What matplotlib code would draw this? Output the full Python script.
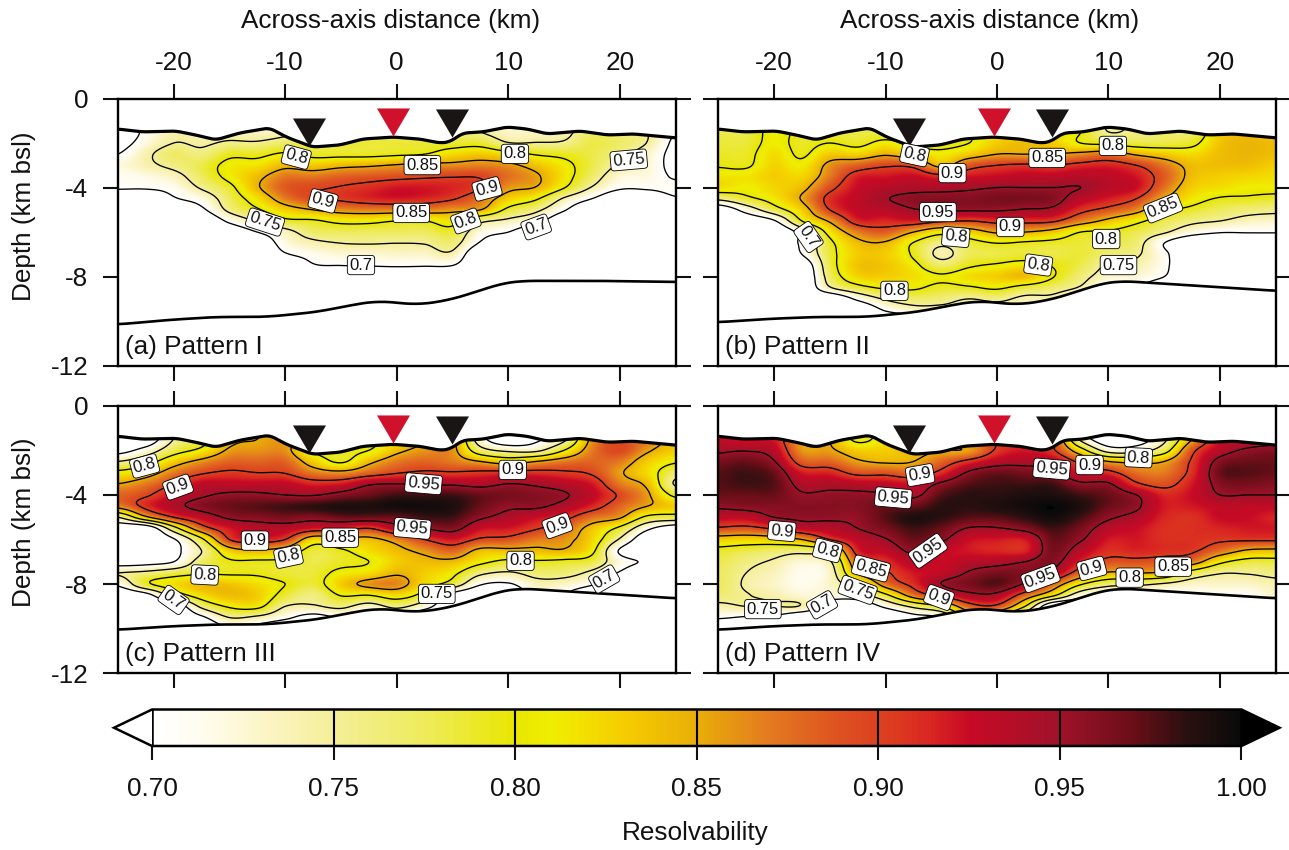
import numpy as np
import matplotlib
matplotlib.use("Agg")
import matplotlib.pyplot as plt
from matplotlib.colors import LinearSegmentedColormap, Normalize
from matplotlib.cm import ScalarMappable
from matplotlib.markers import MarkerStyle

plt.rcParams['font.family'] = ['Liberation Sans', 'DejaVu Sans']
INK = '#111111'
FS = 18.8

# ---------------- data (percent resolvability, one list per x column, depth 1.0, 1.5 ... km) ----
x_nodes = [-25, -22.5, -20, -17.5, -15, -12.5, -10, -7.5, -5, -2.5, 0, 2.5, 5, 7.5, 10, 12.5, 15, 17.5, 20, 22.5, 25]
depth_nodes = [1 + 0.5 * i for i in range(19)]

pattern_1 = [
    [66,66,68,70,72,71,70.5,66,65],
    [71,71,72,74,74,72,70.5,66,65],
    [73,74,75,77,76,73.5,71.5,69.5,66,65],
    [74,74,74.5,76,78,77.5,75.5,72,69,65],
    [74,74,75.5,79,81,81,79,77.5,76,71,66,65],
    [73,73,75.5,79,81.5,84,84.5,82,79.5,75.5,70,66,65],
    [74,74,77,80.5,84,87,88.5,87,83,79,73.5,72,69.5,65],
    [77,77,78,79,83,87,89.5,89.5,85,79.5,77,74,71.5,69.5,65],
    [77,77,78.5,79,84,88,90.2,90.5,86.5,81,77.5,75,72.5,70,65],
    [78,78,78.5,79,84.5,88.5,91,91.5,87,81,77.5,75.2,72.5,70.2,65],
    [78,78,78.5,79.5,85.3,89,92,92,87,80,77.5,75,73,70.5,65],
    [78,78,78.5,80,86,89.5,92,91.5,87,80,77.5,75.2,73,70.3,65],
    [77,77,78.5,82,86,89.8,91.5,90.3,86,81.5,78.5,76.5,74,70,65],
    [75,75,78.5,83,86.5,89.7,90.2,87.5,85,76,72,69.5,65],
    [73,73,75.2,81.5,85.8,87.5,86,83,79,74,70,66,65],
    [73,73,75.2,79.7,83.5,85.5,84.8,80.5,76,71.5,66,65],
    [74,74,75.5,79,81,81.5,80.2,74.5,70.5,66,65],
    [76,77,78,78,78,77,74.7,70,65],
    [75,76,77,76,74.5,72.5,70.7,66,65],
    [74,75,74.8,73,72.5,72,70.6,67,65],
    [70,70,69,68.5,68.5,69.5,71,69.5,66,65],
]
pattern_2 = [
    [78,78,78.5,79,79.7,81.5,82,76,66,65],
    [78,78,78.5,79,79.5,81.5,81,79,72,66,65],
    [81,81,81,82,82.5,83,82.5,81.5,78,69.5,65],
    [79,79,79,79.5,81,82.5,84,85.3,83,80,72,71,70,66,65],
    [78,78,80,83,86,87,89,91,90,85.5,81.5,79,78.5,78,77,74.5,65],
    [78,78,79,82.5,88,91.5,92.5,93,93,91.5,87,84,83,83.5,82.5,78.5,71,65],
    [78,78,81,84.5,89.5,92,93.5,94.8,93.5,91.5,88.5,84.5,83,83.5,83,80.5,75.5,70.5,65],
    [78,78,79,82.5,89,92.5,94,95.8,94.8,92,85,79.8,79.5,81,82,80.5,77,73,65],
    [79,79,79,81,84,91,94,96,95.3,90.5,81.5,76,74,77,80.5,79,76.5,73,65],
    [80,80,80,83,88.5,92,94.5,96,95.3,90,83,78.5,77.5,79.5,82,79.5,75,72,65],
    [82,82,83,85,90,92.5,95,96.5,95.3,91,85.5,80,78,80.5,83,80.5,76,72,65],
    [82,82,84,85,90.5,93,95,96.5,94.8,91,85,79.5,78.5,81.5,84,78.5,74],
    [82,82,83,85,90,93,95,96,94.3,90.5,83.5,79,78,79.8,80.2,77,74],
    [80,80,80,86,91,93.5,95,93.5,91,87,80,78.5,78.5,78,76.5,74.5,70],
    [75,75,79,87,91.5,93,93.5,92,89,84,79.5,78,76.5,74.5,73,70],
    [76,76,78,84.5,90,92,92.5,90,86.5,81,78,76.5,75.5,74,72.5,70],
    [77,77,78,83,87,88.5,87.5,85,81,78,75.5,70,71,71,70,66],
    [77,77,79,82,84,84,83,81.5,79,76,72,65],
    [83,83,83.5,84,84,83,82,79.7,77.5,75,70.3,65],
    [84,84,84.5,84.5,84,82.5,81,79.5,76.5,73.5,70.3,65],
    [83,83,84,84,83,82,81,79,76,73,70.3,65],
]
pattern_3 = [
    [65,65,68,75,81,85,88,86.5,75,66,65,65,67,75,71,65],
    [65,66,72,78,83,87,89.5,91,84,66,65,65,68,76,79,68,65],
    [74,75,78,83,87,90,92.5,94,90,78,69.5,68.5,70,78,82,77,66,65],
    [76,78,81,86,89.5,93,94.5,96,93,88,79,75,77,79.5,84,82,76,69,65],
    [84,84,85.5,88,90.5,93,95.5,97,95.5,92,90,83,79.5,79.5,83.5,84,80.5,75,70],
    [85,85,86,88,90,93,95.5,97.5,96,93.5,91.5,84.5,79.5,79.5,82,83,81,74,68],
    [86,86,86,88,89.8,93,95,98,96.5,93.5,90,83,79.3,78.5,80,78.5,75,71,65],
    [84,84,80,83,87,91.5,94.8,98.5,96,92,82.5,78.5,78,78.5,78.5,76,74.5,68,65],
    [79,79,79,79.5,86,92,96,99,97,91.5,84,79.5,79,81,83,80.2,76,70,65],
    [79,79,80,84,88,94.5,97,99,97,90,84,82,80,82,86,80,73,67,65],
    [81,81,84,87,89.7,95,98,99.5,97,93.5,86.5,84,83,84.5,86.5,82,76,70,65],
    [85,85,86,88,90.5,94.5,98,99.5,98,95,90,86,84,83,82,78,72,65],
    [86,86,86,87,90.3,94.5,98,99,98,96,92,88,84,81,78,68,65],
    [70,72,77,85,90.7,94,97,97,95.5,92.5,89.5,84,81,76,70.5,65],
    [65,66,74,83,91,95,96.5,95.5,94,92,89,84,79,74.5,69.5,65],
    [68,69,74,85,91,94.5,96,95.5,92.5,90.3,87,84,79.5,76.5,73.5,72],
    [73,74,80,87,90.5,93.5,95.3,94,91,88,86,84.5,79,76.5,73,70],
    [86,86,87,88,89.5,92,93,91.5,87.5,83.5,82.5,81,78,74,70.5,65],
    [88,89,89.5,87,85.5,87,89.5,88,85.5,79,74.5,69.5,72,69.5,65],
    [87,87,85.5,83,82,84,85.5,85,79,71,66,65,69,65],
    [84,84,83,80.5,77,74.5,79,83,78,67,65],
]
pattern_4 = [
    [93,93,94.5,96.5,97.5,97.5,97,95.5,93,89.5,83,79,78,77.5,77.5,76.5,74,70.5,65],
    [92,92,94.8,97,98,98,97,96,93,89,82.5,78,76,75,74.5,75.2,75,69.5,65],
    [92,92,93.5,95.2,97,97.5,97,96,95,90.5,83,77,74.5,73.5,73,74,75,69,65],
    [85,85,86,88.5,92,94,95.3,96,95.5,93,85,76.5,72.5,71.5,71.5,72.5,74.5,65,65],
    [85,85,85.5,88,91.5,94,95.5,96,95.5,93.5,90,79,74.5,73,73,72,67,65,65],
    [78,79,83,85.5,89,93.5,95.5,96,95.5,95,93,91.5,88.5,85.5,78,73,66,65],
    [82,82,83,84.5,89,93,95.3,97,97.5,96.5,94.8,93,91,89.5,87,79,71,65],
    [84,84,84,85,88,92.5,94.3,97,99,98,97,95.5,93.5,92,91,87,76,68,65],
    [86,86,85,88,91,95.5,97.5,98.5,98.5,97,95.5,93,92.5,93,95,91,80,70,65],
    [88,88,85.5,91,95.5,97.5,98.5,98.5,97.5,94.8,92.5,92,93.5,95.3,96.5,94,88,80,65],
    [90,90,90.5,93.5,97,98,98.5,99,97.5,94.8,92,91.5,94,96.5,97.5,94,89,80],
    [90,91,92,94,96.5,98,99,99.5,98.5,96,92,91.5,95,96,94.5,88,80,70],
    [90,90,90.5,93.5,95.5,98,99,100,99.5,98,97,96.5,96,94,88,81,65],
    [70,74,82,89,92,95.5,98,99,98,96.5,95.3,93.5,91.5,88,80.5,72,65],
    [65,66,73,85,91,95.3,97,97,95.5,93.5,92,91,89,84.5,76.5,70],
    [66,67,73,84,87.5,90.5,95,95.5,94,92.5,92,91.5,89,85,76,70],
    [74,74,78,85,87,89,91.5,92,91.5,91,91,91,88.5,84,74.5,70],
    [84,85,89,90.5,91,92,92.5,92,91,91,91,90.5,87,78,73,71],
    [91,92,93.5,96,97,96,95,93,92.5,91.5,90.5,87.5,81,75.3,73,71],
    [93,93,95.5,97,97.5,96.5,95,93,92.5,92,90.5,84.5,78.5,75.3,73,71],
    [94,94,96,97,97,96,95,93,91.5,92,90.5,84,78.5,76,74,73],
]

surface_x = [-25,-22.8,-19.8,-18,-16.2,-14.1,-11.4,-9.9,-7.55,-5.1,-3.05,-0.36,2.07,3.87,4.76,5.93,7.73,9.89,11.7,13.5,16.45,18.9,21.2,25]
surface_d = [1.37,1.5,1.46,1.64,1.86,1.55,1.32,1.73,2.18,2.09,1.82,1.73,1.82,2.0,1.95,1.55,1.5,1.28,1.37,1.59,1.46,1.64,1.59,1.77]
bottom_x = [-25,-20.6,-16.2,-11.7,-7.2,-3.95,-1.8,0.27,1.8,4.76,6.8,9.2,11,13.8,18.2,25]
bottom_d_first = [10.15,9.95,9.81,9.81,9.59,9.27,9.09,9.18,9.27,9.05,8.73,8.33,8.19,8.19,8.19,8.24]
bottom_d_other = [10.05,9.9,9.81,9.81,9.59,9.27,9.09,9.18,9.27,9.05,8.73,8.33,8.19,8.28,8.42,8.64]

vent_x = [-7.9, -0.3, 4.95]
vent_d = [1.5, 1.04, 1.11]
vent_colors = ['#1a1515', '#d0112b', '#1a1515']

levels = [70, 75, 80, 85, 90, 95]
x_ticks = [-20, -10, 0, 10, 20]
x_ticklabels = ['-20', '-10', '0', '10', '20']
y_ticks = [0, -4, -8, -12]
y_ticklabels = ['0', '-4', '-8', '-12']
cbar_ticks = [0.70, 0.75, 0.80, 0.85, 0.90, 0.95, 1.00]
cbar_ticklabels = ['0.70', '0.75', '0.80', '0.85', '0.90', '0.95', '1.00']

titles = ['(a) Pattern I', '(b) Pattern II', '(c) Pattern III', '(d) Pattern IV']

labels_a = [(-9.0,2.63,'0.8',-15),(2.3,2.99,'0.85',0),(10.6,2.49,'0.8',0),(20.8,2.76,'0.75',5),
            (-6.6,4.6,'0.9',-15),(8.1,4.06,'0.9',15),(-11.8,5.55,'0.75',-18),(1.3,5.14,'0.85',0),
            (6.2,5.5,'0.8',20),(12.5,5.77,'0.7',20),(-3.2,7.48,'0.7',0)]
labels_b = [(-7.4,2.54,'0.8',-12),(4.5,2.67,'0.85',0),(10.4,2.13,'0.8',0),(-4.0,3.35,'0.9',0),
            (-5.3,5.1,'0.95',0),(1.2,5.77,'0.9',0),(14.9,4.92,'0.85',22),(9.8,6.31,'0.8',0),
            (-16.9,6.22,'0.7',-55),(-3.7,6.22,'0.8',-5),(3.7,7.48,'0.8',-8),(10.9,7.48,'0.75',0),
            (-9.2,8.64,'0.8',0)]
labels_c = [(-22.6,2.7,'0.8',15),(-19.6,3.65,'0.9',20),(2.4,3.5,'0.95',-5),(10.4,2.88,'0.9',0),
            (1.4,5.5,'0.95',-5),(-12.7,6.05,'0.9',0),(14.4,5.38,'0.9',20),(-5.07,5.92,'0.85',0),
            (-9.7,6.77,'0.8',12),(11.1,6.96,'0.8',0),(-17.2,7.59,'0.8',-3),(-20,8.71,'0.7',-35),
            (3.6,8.44,'0.75',0),(18.6,7.77,'0.7',30)]
labels_d = [(-6.9,3.11,'0.9',10),(-9.3,4.13,'0.95',-5),(-19.3,5.62,'0.9',-5),(-15.2,6.49,'0.8',-15),
            (-11.3,7.3,'0.85',-15),(-12.5,8.26,'0.75',-20),(-6.2,6.51,'0.95',35),(-5.2,8.6,'0.9',-20),
            (-15.7,8.93,'0.7',30),(-21,9.12,'0.75',0),(4.9,2.84,'0.95',-5),(8.3,2.66,'0.9',0),
            (12.7,2.33,'0.8',-3),(3.9,7.73,'0.95',20),(8.5,7.3,'0.9',15),(11.9,7.71,'0.8',0),
            (15.8,7.22,'0.85',0)]

cmap_stops = [(70,'#ffffff'),(71.5,'#fffcec'),(73.5,'#fbf3bc'),(75,'#f4ef98'),(77.5,'#eeeb5c'),
              (80,'#e9e600'),(81,'#f0ee00'),(83,'#f5cd00'),(85,'#e9ae08'),(87,'#e47a20'),
              (89,'#dd5020'),(90.5,'#dc3a20'),(91.5,'#d92522'),(92.5,'#c80a25'),(95,'#a0122a'),
              (97,'#6c0e18'),(98.5,'#2a1010'),(100,'#0a0a0a')]

# ---------------- helpers ----------------
def to_grid(cols):
    n = len(depth_nodes)
    return np.array([list(c) + [c[-1]] * (n - len(c)) for c in cols], float).T

def resample(arr, nodes, new, axis):
    a = np.moveaxis(arr, axis, 0)
    h = nodes[1] - nodes[0]
    u = (new - nodes[0]) / h
    i = np.clip(np.floor(u).astype(int), 0, len(nodes) - 2)
    f = (u - i).reshape((-1,) + (1,) * (a.ndim - 1))
    p0, p1 = a[np.clip(i - 1, 0, None)], a[i]
    p2, p3 = a[i + 1], a[np.clip(i + 2, None, len(nodes) - 1)]
    out = 0.5 * (2 * p1 + (p2 - p0) * f + (2 * p0 - 5 * p1 + 4 * p2 - p3) * f ** 2
                 + (3 * p1 - p0 - 3 * p2 + p3) * f ** 3)
    return np.moveaxis(out, 0, axis)

def rounded_profile(xs, ds, new_x, half=10):
    y = np.interp(new_x, xs, ds)
    pad = np.r_[np.full(half, y[0]), y, np.full(half, y[-1])]
    return np.convolve(pad, np.ones(2 * half + 1) / (2 * half + 1), mode='valid')

cmap = LinearSegmentedColormap.from_list(
    'res', [((v - 70) / 30, c) for v, c in cmap_stops], N=512)
cmap.set_under('white')
cmap.set_over('black')
norm = Normalize(0.70, 1.00)

W, H = 1289, 850
fig = plt.figure(figsize=(W / 100, H / 100), dpi=100)
def box(l, r, t, b):
    return [l / W, 1 - b / H, (r - l) / W, (b - t) / H]
boxes = [box(117.8, 675.6, 98.5, 365.7), box(718.3, 1275.7, 98.5, 365.7),
         box(117.8, 675.6, 405.7, 673.3), box(718.3, 1275.7, 405.7, 673.3)]
grids = [pattern_1, pattern_2, pattern_3, pattern_4]
all_labels = [labels_a, labels_b, labels_c, labels_d]
bottoms = [bottom_d_first, bottom_d_other, bottom_d_other, bottom_d_other]

fx = np.linspace(-25, 25, 1001)
fd = np.linspace(1, 10, 721)
xn = np.array(x_nodes, float)
dn = np.array(depth_nodes, float)
vent_marker = MarkerStyle([(-1, 0.85), (1, 0.85), (0, -0.85)])

for k, ax_box in enumerate(boxes):
    ax = fig.add_axes(ax_box)
    z = resample(resample(to_grid(grids[k]), dn, fd, 0), xn, fx, 1)
    X, D = np.meshgrid(fx, fd)
    top = rounded_profile(surface_x, surface_d, fx)
    bot = rounded_profile(bottom_x, bottoms[k], fx, half=30)
    zm = np.ma.masked_where((D < top[None, :]) | (D > bot[None, :]), z)
    ax.imshow(zm / 100, extent=[-25, 25, -10, -1], origin='upper', aspect='auto',
              cmap=cmap, norm=norm, interpolation='bilinear', zorder=1)
    ax.contour(fx, -fd, zm, levels=levels, colors='k', linewidths=0.95, zorder=2)
    ax.plot(fx, -top, color='k', lw=2.3, zorder=3, solid_joinstyle='round')
    ax.plot(fx, -bot, color='k', lw=1.9, zorder=3)
    for vx, vd, vc in zip(vent_x, vent_d, vent_colors):
        ax.plot([vx], [-vd], marker=vent_marker, ms=23.8, color=vc, mec='none', zorder=4, clip_on=False)
    for lx, ld, txt, rot in all_labels[k]:
        ax.text(lx, -ld, txt, rotation=rot, rotation_mode='anchor', ha='center', va='center',
                fontsize=12, color=INK, zorder=5,
                bbox=dict(boxstyle='round,pad=0.13,rounding_size=0.2', fc='white', ec='k', lw=0.6))
    ax.set_xlim(-25, 25)
    ax.set_ylim(-12, 0)
    ax.set_xticks(x_ticks)
    ax.set_yticks(y_ticks)
    ax.tick_params(axis='both', which='major', direction='out', length=10.8, width=1.5,
                   top=True, bottom=True, left=True, right=True, labelsize=FS, colors=INK)
    ax.tick_params(axis='x', pad=6)
    ax.tick_params(axis='y', pad=10.5)
    if k < 2:
        ax.set_xticklabels(x_ticklabels)
        ax.tick_params(labeltop=True, labelbottom=False)
    else:
        ax.tick_params(labeltop=False, labelbottom=False)
    if k % 2 == 0:
        ax.set_yticklabels(y_ticklabels)
    else:
        ax.tick_params(labelleft=False)
    for s in ax.spines.values():
        s.set_linewidth(1.7)
        s.set_color('k')
    ax.text(0.0126, 0.0715, titles[k], transform=ax.transAxes, fontsize=FS, color=INK,
            ha='left', va='center', zorder=6)

fig.text(391 / W, 1 - 21 / H, 'Across-axis distance (km)', fontsize=FS, color=INK, ha='center', va='center')
fig.text(990 / W, 1 - 21 / H, 'Across-axis distance (km)', fontsize=FS, color=INK, ha='center', va='center')
fig.text(24 / W, 1 - 216 / H, 'Depth (km bsl)', fontsize=FS, color=INK, rotation=90, ha='center', va='center')
fig.text(24 / W, 1 - 522 / H, 'Depth (km bsl)', fontsize=FS, color=INK, rotation=90, ha='center', va='center')

cax = fig.add_axes(box(114, 1279.5, 709.5, 746))
cb = fig.colorbar(ScalarMappable(norm=norm, cmap=cmap), cax=cax, orientation='horizontal',
                  extend='both', extendfrac=38 / 1089, ticks=cbar_ticks)
cb.ax.set_xticklabels(cbar_ticklabels)
cb.ax.tick_params(direction='out', length=10, width=1.5, labelsize=FS, colors=INK, pad=12)
cb.outline.set_linewidth(1.8)
cb.outline.set_edgecolor('k')
for t in cbar_ticks[1:-1]:
    cax.axvline(t, color='k', lw=1.5, zorder=5)
for t in [cbar_ticks[0], cbar_ticks[-1]]:
    cax.axvline(t, color='k', lw=1.8, zorder=5)
fig.text(695 / W, 1 - 833 / H, 'Resolvability', fontsize=FS, color=INK, ha='center', va='center')

fig.savefig('out.png', dpi=100)
